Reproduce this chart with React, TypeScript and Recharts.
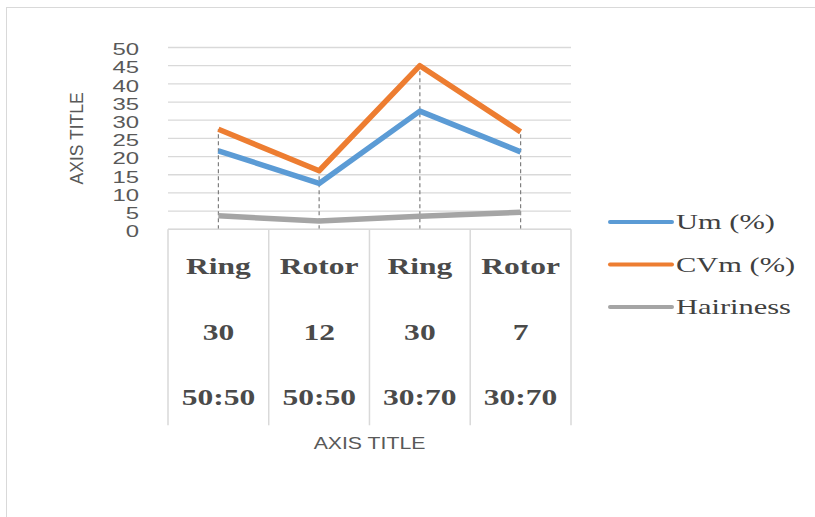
import React from "react";
import {
  LineChart,
  Line,
  XAxis,
  YAxis,
  CartesianGrid,
  ReferenceLine,
} from "recharts";

const machines = ["Ring", "Rotor", "Ring", "Rotor"];
const counts = ["30", "12", "30", "7"];
const blends = ["50:50", "50:50", "30:70", "30:70"];

const umValues = [21.6, 12.6, 32.5, 21.3];
const cvmValues = [27.5, 16.1, 45, 26.8];
const hairinessValues = [3.7, 2.3, 3.6, 4.7];

const yTicks = [0, 5, 10, 15, 20, 25, 30, 35, 40, 45, 50];

const series = [
  { key: "um", name: "Um (%)", color: "#5B9BD5" },
  { key: "cvm", name: "CVm (%)", color: "#ED7D31" },
  { key: "hair", name: "Hairiness", color: "#A5A5A5" },
];

const data = machines.map((m, i) => ({
  cat: `${m} ${counts[i]} ${blends[i]}`,
  machine: m,
  count: counts[i],
  blend: blends[i],
  um: umValues[i],
  cvm: cvmValues[i],
  hair: hairinessValues[i],
}));

const SANS = "'Liberation Sans', Arial, sans-serif";
const SERIF = "'Liberation Serif', 'Times New Roman', serif";
const HALF_BAND = 50.4;

function YTick(props: any) {
  const { x, y, payload } = props;
  return (
    <g transform={`translate(${x - 21},${y + 2}) scale(1.45,1)`}>
      <text textAnchor="end" dy="0.35em" fontFamily={SANS} fontSize={16.5} fill="#595959">
        {payload.value}
      </text>
    </g>
  );
}

function XTick(props: any) {
  const { x, y, index } = props;
  const row = data[index] || data[0];
  const lines = [row.machine, row.count, row.blend];
  return (
    <g>
      <line x1={x - HALF_BAND} y1={y} x2={x - HALF_BAND} y2={y + 196} stroke="#d9d9d9" strokeWidth={1.5} />
      {index === data.length - 1 && (
        <line x1={x + HALF_BAND} y1={y} x2={x + HALF_BAND} y2={y + 196} stroke="#d9d9d9" strokeWidth={1.5} />
      )}
      {lines.map((t, i) => (
        <g key={i} transform={`translate(${x},${y + 37 + i * 65.5}) scale(1.37,1)`}>
          <text textAnchor="middle" dy="0.35em" fontFamily={SERIF} fontWeight="bold" fontSize={23} fill="#4a4a4a">
            {t}
          </text>
        </g>
      ))}
    </g>
  );
}

function LegendBox() {
  return (
    <svg width={210} height={130}>
      {series.map((s, i) => {
        const cy = 22 + i * 42.5;
        return (
          <g key={s.key}>
            <line x1={5} y1={cy} x2={67} y2={cy} stroke={s.color} strokeWidth={4} strokeLinecap="round" />
            <g transform={`translate(71,${cy}) scale(1.45,1)`}>
              <text dy="0.35em" fontFamily={SERIF} fontSize={21} fill="#404040">
                {s.name}
              </text>
            </g>
          </g>
        );
      })}
    </svg>
  );
}

export default function App() {
  return (
    <div
      style={{
        position: "fixed",
        left: 0,
        top: 0,
        width: 815,
        height: 517,
        overflow: "hidden",
        background: "#fff",
      }}
    >
      <div
        style={{
          position: "absolute",
          left: 6,
          top: 7,
          width: 840,
          height: 540,
          border: "1.5px solid #d9d9d9",
        }}
      />
      <div style={{ position: "absolute", left: 0, top: 0 }}>
        <LineChart
          width={815}
          height={517}
          data={data}
          margin={{ top: 47.5, right: 244, left: 108, bottom: 57.7 }}
        >
          <CartesianGrid vertical={false} stroke="#d9d9d9" strokeWidth={1.3} />
          <XAxis
            dataKey="cat"
            height={230}
            padding={{ left: HALF_BAND, right: HALF_BAND }}
            tickLine={false}
            tickSize={0}
            tickMargin={0}
            axisLine={{ stroke: "#d9d9d9", strokeWidth: 1.5 }}
            tick={<XTick />}
            interval={0}
            label={{
              content: (p: any) => {
                const vb = p.viewBox;
                return (
                  <g transform={`translate(${vb.x + vb.width / 2},${vb.y + 214}) scale(1.25,1)`}>
                    <text textAnchor="middle" dy="0.35em" fontFamily={SANS} fontSize={17} fill="#595959">
                      AXIS TITLE
                    </text>
                  </g>
                );
              },
            }}
          />
          <YAxis
            width={60}
            domain={[0, 50]}
            ticks={yTicks}
            interval={0}
            axisLine={false}
            tickLine={false}
            tick={<YTick />}
            label={{
              content: (p: any) => {
                const vb = p.viewBox;
                const cx = vb.x - 31;
                const cy = vb.y + vb.height / 2;
                return (
                  <text
                    x={cx}
                    y={cy}
                    transform={`rotate(-90,${cx},${cy})`}
                    textAnchor="middle"
                    dy="0.35em"
                    fontFamily={SANS}
                    fontSize={17.5}
                    fill="#595959"
                  >
                    AXIS TITLE
                  </text>
                );
              },
            }}
          />
          {data.map((d) => (
            <ReferenceLine
              key={d.cat}
              segment={[
                { x: d.cat, y: 0 },
                { x: d.cat, y: Math.max(d.um, d.cvm, d.hair) },
              ]}
              stroke="#7f7f7f"
              strokeWidth={1.2}
              strokeDasharray="4 3"
            />
          ))}
          {series.map((s) => (
            <Line
              key={s.key}
              type="linear"
              dataKey={s.key}
              name={s.name}
              stroke={s.color}
              strokeWidth={5.5}
              strokeLinejoin="round"
              dot={false}
              activeDot={false}
              isAnimationActive={false}
            />
          ))}
        </LineChart>
      </div>
      <div style={{ position: "absolute", left: 605, top: 200 }}>
        <LegendBox />
      </div>
    </div>
  );
}
